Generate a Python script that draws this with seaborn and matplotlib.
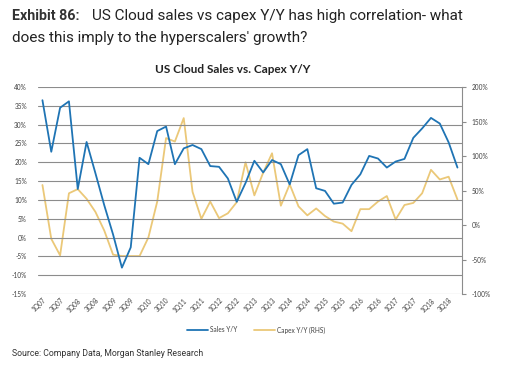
"""
US Cloud Sales vs. Capex Y/Y - dual axis line chart
"""

import numpy as np
import pandas as pd
import matplotlib
matplotlib.use('Agg')
import matplotlib.pyplot as plt
from matplotlib.ticker import FuncFormatter
import seaborn as sns

# Data
quarters = [f'{q}Q{y:02d}' for y in range(7, 19) for q in range(1, 5)]
sales_yoy = [36.5, 22.8, 34.5, 36.2, 12.9, 25.4, 17.1, 8.6, 0.8, -8.0, -2.6, 21.2,
             19.5, 28.3, 29.5, 19.5, 23.7, 24.6, 23.5, 19.0, 18.8, 15.7, 9.5, 14.5,
             20.4, 17.3, 20.6, 19.5, 14.1, 21.9, 23.5, 13.1, 12.4, 9.0, 9.3, 14.0,
             16.8, 21.7, 21.0, 18.6, 20.2, 20.9, 26.5, 29.0, 31.8, 30.3, 25.3, 18.6]
capex_yoy = [58, -20, -44, 46, 52, 38, 19, -8, -43, -45, -45, -45,
             -18, 34, 126, 121, 155, 48, 9, 34, 10, 17, 33, 91,
             43, 76, 104, 28, 59, 27, 14, 24, 13, 5, 2, -9,
             23, 23, 34, 42, 8, 29, 32, 46, 80, 66, 70, 37]
tick_labels = quarters[::2]

BLUE = '#1f74b4'
GOLD = '#ebc878'
GRID = '#8c8c8c'
TXT = '#404040'


def main():
    sns.set_style('white')
    plt.rcParams['font.family'] = ['Lato', 'DejaVu Sans']

    df = pd.DataFrame({'idx': np.arange(len(quarters)), 'quarter': quarters,
                       'sales': sales_yoy, 'capex': capex_yoy})

    fig = plt.figure(figsize=(5.07, 3.72), dpi=100)
    ax = fig.add_axes([0.075, 0.2097, 0.836, 0.5563])
    ax2 = ax.twinx()

    sns.lineplot(data=df, x='idx', y='sales', ax=ax, color=BLUE, linewidth=1.3,
                 label='Sales Y/Y', legend=False)
    sns.lineplot(data=df, x='idx', y='capex', ax=ax2, color=GOLD, linewidth=1.3,
                 label='Capex Y/Y (RHS)', legend=False)
    ax.set_zorder(ax2.get_zorder() + 1)
    ax.patch.set_visible(False)

    # left axis
    ax.set_ylim(-15, 40)
    ax.set_yticks(np.arange(-15, 41, 5))
    ax.yaxis.set_major_formatter(FuncFormatter(lambda v, p: f'{v:.0f}%'))
    ax.grid(axis='y', color=GRID, linewidth=0.8)
    ax.set_xlim(-0.5, len(quarters) - 0.5)
    ax.set_xticks(np.arange(0, len(quarters), 2))
    ax.set_xticklabels(tick_labels, rotation=45, ha='right', rotation_mode='anchor')
    ax.tick_params(axis='x', length=0, labelsize=4.7, colors=TXT, pad=2)
    ax.tick_params(axis='y', length=0, labelsize=4.7, colors=TXT, pad=8)
    ax.set_xlabel('')
    ax.set_ylabel('')

    # right axis
    ax2.set_ylim(-100, 200)
    ax2.set_yticks(np.arange(-100, 201, 50))
    ax2.yaxis.set_major_formatter(FuncFormatter(lambda v, p: f'{v:.0f}%'))
    ax2.tick_params(axis='y', length=3, width=0.8, color=GRID, labelsize=4.7,
                    colors=TXT, pad=4)
    ax2.set_ylabel('')

    for a in (ax, ax2):
        for s in ('top', 'left', 'bottom'):
            a.spines[s].set_visible(False)
    ax.spines['right'].set_visible(False)
    ax2.spines['right'].set_color(GRID)
    ax2.spines['right'].set_linewidth(0.8)
    ax2.tick_params(axis='y', color=GRID)

    # legend
    handles = ax.get_lines()[:1] + ax2.get_lines()[:1]
    fig.legend(handles, ['Sales Y/Y', 'Capex Y/Y (RHS)'], loc='center',
               bbox_to_anchor=(0.505, 0.113), ncol=2, frameon=False,
               fontsize=4.7, handlelength=3.2, handletextpad=0.3,
               columnspacing=2.5, labelcolor=TXT)

    # titles and source
    fig.text(0.023, 0.945, 'Exhibit 86:', fontsize=10.3, fontweight='bold',
             color='#333333', family='Roboto', va='baseline')
    fig.text(0.182, 0.945, 'US Cloud sales vs capex Y/Y has high correlation- what',
             fontsize=11, color='#222222', family='Roboto', va='baseline')
    fig.text(0.023, 0.888, "does this imply to the hyperscalers' growth?",
             fontsize=11, color='#222222', family='Roboto', va='baseline')
    fig.text(0.458, 0.805, 'US Cloud Sales vs. Capex Y/Y', fontsize=8.5,
             fontweight='bold', color='#222222', ha='center', va='baseline')
    fig.text(0.023, 0.043, 'Source: Company Data, Morgan Stanley Research',
             fontsize=6.3, color='#333333', family='Roboto', va='baseline')

    fig.savefig('out.png', dpi=100)
    plt.close(fig)


if __name__ == '__main__':
    main()
